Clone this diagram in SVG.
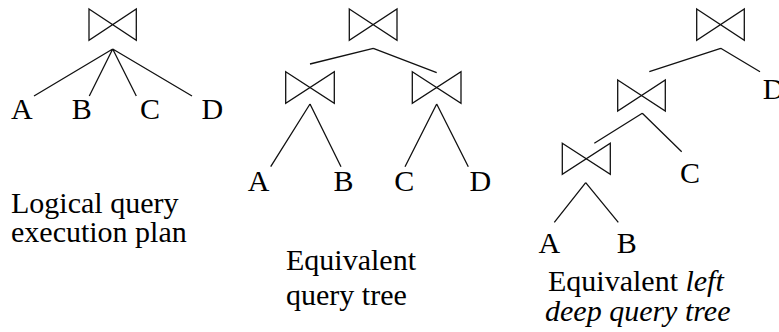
<svg xmlns="http://www.w3.org/2000/svg" width="779" height="332" viewBox="0 0 779 332">
<style>
.bt{fill:none;stroke:#111;stroke-width:1.3;stroke-linejoin:miter}
.ln{stroke:#111;stroke-width:1.3;fill:none}
.tx{font-family:'Liberation Serif','Tinos','Times New Roman','Nimbus Roman','DejaVu Serif',serif;font-size:30px;fill:#000}
.it{font-style:italic}
</style>
<g id="tree1-join"><path class="bt" d="M89,9 L136.3,40.3 L136.3,9 L89,40.3 Z"/></g>
<g class="tx" font-family="Liberation Serif, Times New Roman, DejaVu Serif, serif">
<g id="tree1-A"><text x="11" y="119">A</text></g>
<g id="tree1-B"><text x="71.7" y="119">B</text></g>
<g id="tree1-C"><text x="140" y="119">C</text></g>
<g id="tree1-D"><text x="201.5" y="119">D</text></g>
<g id="tree1-label"><text x="11" y="213">Logical query</text><text x="11" y="242">execution plan</text></g>
<g id="tree2-A"><text x="247.8" y="190.7">A</text></g>
<g id="tree2-B"><text x="333.4" y="190.7">B</text></g>
<g id="tree2-C"><text x="394.2" y="190.7">C</text></g>
<g id="tree2-D"><text x="469.5" y="190.7">D</text></g>
<g id="tree2-label"><text x="286" y="269.5">Equivalent</text><text x="286" y="305">query tree</text></g>
<g id="tree3-D"><text x="762.8" y="99.3">D</text></g>
<g id="tree3-C"><text x="680" y="182.7">C</text></g>
<g id="tree3-A"><text x="538.5" y="253.3">A</text></g>
<g id="tree3-B"><text x="616.7" y="253.3">B</text></g>
<g id="tree3-label"><text x="548" y="291">Equivalent <tspan class="it">left</tspan></text><text class="it" x="545" y="321">deep query tree</text></g>
</g>

<g id="tree2-root"><path class="bt" d="M349.3,9 L397,40.3 L397,9 L349.3,40.3 Z"/></g>
<g id="tree2-left"><path class="bt" d="M285.7,71.7 L334.3,103.3 L334.3,71.7 L285.7,103.3 Z"/></g>
<g id="tree2-right"><path class="bt" d="M412.3,71.7 L461,103.3 L461,71.7 L412.3,103.3 Z"/></g>
<g id="tree3-root"><path class="bt" d="M696.7,9 L744.3,40.3 L744.3,9 L696.7,40.3 Z"/></g>
<g id="tree3-mid"><path class="bt" d="M617.7,80 L665.3,111 L665.3,80 L617.7,111 Z"/></g>
<g id="tree3-low"><path class="bt" d="M562.3,143.3 L610.3,174.3 L610.3,143.3 L562.3,174.3 Z"/></g>

<g id="connectors">
<path class="ln" d="M112.7,49 L34,96 M112.7,49 L89.3,96 M112.7,49 L136.3,96 M112.7,49 L192,96"/>
<path class="ln" d="M373.3,48.3 L310,64 M373.3,48.3 L436.7,72.7"/>
<path class="ln" d="M310,104 L270.7,166.7 M310,104 L341,166.7"/>
<path class="ln" d="M436.7,104 L405,166.7 M436.7,104 L468.3,166.7"/>
<path class="ln" d="M720.7,48.3 L649.3,71.7 M720.7,48.3 L760,71.7"/>
<path class="ln" d="M642.3,113.3 L594.3,143.3 M642.3,113.3 L681.7,151.7"/>
<path class="ln" d="M585.7,182.7 L554.3,222.3 M585.7,182.7 L618.3,222.3"/>
</g>
</svg>
